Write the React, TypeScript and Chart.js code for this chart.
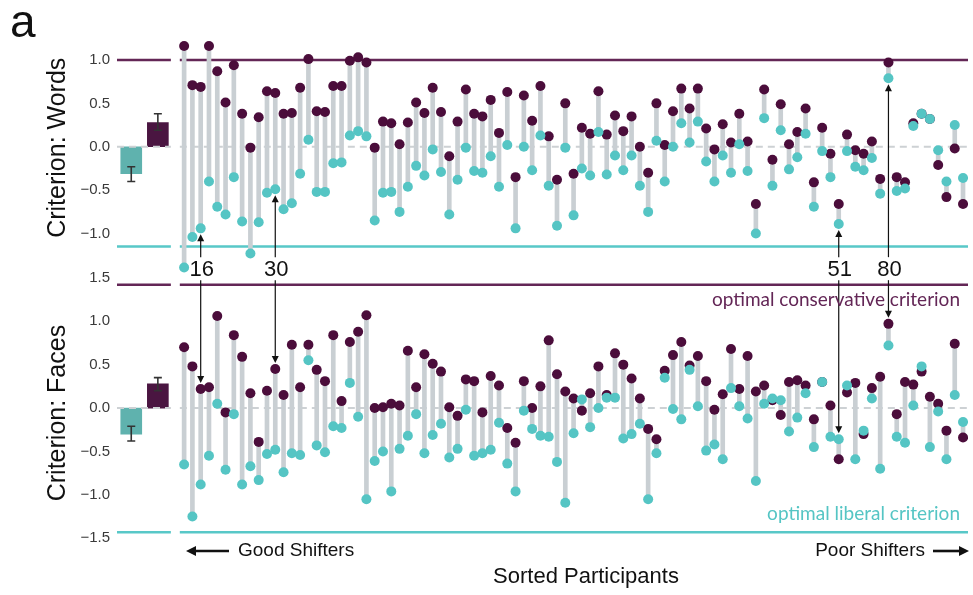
import React, { useEffect, useRef } from "react";
import { Chart, registerables } from "chart.js";

Chart.register(...registerables);

// Sorted participant ranks (x categories)
const participants: number[] = Array.from({ length: 95 }, (_, i) => i + 1);

// Criterion: Words — conservative-condition (purple) and liberal-condition (teal) criteria
const wordsCons = [
  1.16, 0.71, 0.69, 1.16, 0.87, 0.51, 0.94, 0.38, -0.01, 0.34, 0.64, 0.62, 0.38, 0.39, 0.68, 1.01, 0.41, 0.4, 0.7, 0.7, 0.99, 1.03, 0.97, -0.01,
  0.29, 0.27, 0.03, 0.28, 0.51, 0.39, 0.68, 0.4, -0.11, 0.29, 0.66, 0.38, 0.35, 0.54, 0.16, 0.63, -0.35, 0.59, 0.3, 0.7, 0.12, -0.38, 0.5, -0.31,
  0.22, 0.15, 0.64, 0.14, 0.36, 0.18, 0.35, 0.0, -0.3, 0.5, 0.02, 0.41, 0.67, 0.44, 0.67, 0.21, -0.03, 0.26, 0.05, 0.38, 0.06, -0.66, 0.66, -0.15,
  0.49, 0.03, 0.17, 0.44, -0.41, 0.22, -0.08, -0.66, 0.14, -0.04, -0.08, 0.06, -0.37, 0.97, -0.35, -0.41, 0.27, 0.38, 0.32, -0.21, -0.58, -0.02, -0.66,
];
const wordsLib = [
  -1.39, -1.04, -0.94, -0.4, -0.69, -0.78, -0.35, -0.86, -1.23, -0.87, -0.53, -0.49, -0.72, -0.65, -0.31, 0.08, -0.52, -0.52, -0.19, -0.18, 0.13, 0.18, 0.12, -0.85,
  -0.53, -0.52, -0.75, -0.46, -0.22, -0.33, -0.03, -0.29, -0.78, -0.38, -0.01, -0.28, -0.3, -0.11, -0.46, 0.02, -0.94, 0.0, -0.27, 0.13, -0.45, -0.91, -0.01, -0.79,
  -0.25, -0.33, 0.17, -0.32, -0.1, -0.27, -0.1, -0.45, -0.75, 0.07, -0.4, 0.0, 0.27, 0.05, 0.29, -0.17, -0.4, -0.1, -0.3, 0.03, -0.28, -1.0, 0.33, -0.45,
  0.19, -0.26, -0.12, 0.15, -0.69, -0.05, -0.35, -0.89, -0.05, -0.23, -0.27, -0.13, -0.54, 0.79, -0.51, -0.48, 0.24, 0.38, 0.32, -0.04, -0.4, 0.25, -0.36,
];

// Criterion: Faces
const facesCons = [
  0.7, 0.48, 0.22, 0.24, 1.06, -0.05, 0.84, 0.59, 0.17, -0.39, 0.2, 0.45, 0.15, 0.73, 0.24, 0.73, 0.44, 0.31, 0.84, 0.08, 0.76, 0.88, 1.07, 0.0,
  0.01, 0.05, 0.03, 0.66, 0.24, 0.62, 0.51, 0.42, 0.01, -0.09, 0.33, 0.31, -0.05, 0.37, 0.26, -0.23, -0.4, 0.31, 0.0, 0.25, 0.78, 0.39, 0.19, 0.11,
  -0.03, 0.17, 0.48, 0.15, 0.63, 0.5, 0.34, 0.11, -0.24, -0.36, 0.43, 0.61, 0.76, 0.49, 0.6, 0.31, -0.02, 0.16, 0.68, 0.22, 0.6, 0.19, 0.26, 0.09,
  -0.08, 0.3, 0.32, 0.26, -0.13, 0.3, 0.03, -0.59, 0.18, 0.29, -0.3, 0.23, 0.36, 0.97, -0.07, 0.3, 0.27, 0.42, 0.13, 0.05, -0.26, 0.74, -0.34,
];
const facesLib = [
  -0.65, -1.25, -0.88, -0.55, 0.05, -0.71, -0.07, -0.88, -0.67, -0.83, -0.53, -0.48, -0.74, -0.52, -0.54, 0.55, -0.43, -0.51, -0.21, -0.23, 0.29, -0.1, -1.05, -0.61,
  -0.5, -0.96, -0.47, -0.32, -0.07, -0.52, -0.31, -0.18, -0.57, -0.47, -0.02, -0.55, -0.52, -0.48, -0.17, -0.64, -0.96, -0.03, -0.24, -0.32, -0.33, -0.62, -1.09, -0.29,
  0.1, -0.22, 0.0, 0.12, 0.12, -0.35, -0.3, -0.18, -1.05, -0.52, 0.35, -0.01, -0.13, 0.44, 0.02, -0.49, -0.42, -0.59, 0.23, 0.02, -0.12, -0.84, 0.05, 0.11,
  0.09, -0.27, -0.11, 0.17, -0.45, 0.3, -0.33, -0.36, 0.26, -0.59, -0.26, 0.11, -0.7, 0.72, -0.33, -0.4, 0.03, 0.48, -0.45, -0.04, -0.59, 0.15, -0.16,
];

// Group means (liberal, conservative) with error bar limits
const barGroups = ["liberal", "conservative"];
const wordsMeans = [-0.31, 0.28];
const wordsErrLow = [-0.4, 0.19];
const wordsErrHigh = [-0.23, 0.38];
const facesMeans = [-0.3, 0.28];
const facesErrLow = [-0.38, 0.2];
const facesErrHigh = [-0.21, 0.35];

// Optimal criteria [conservative, liberal]
const wordsOptimal = [1.0, -1.15];
const facesOptimal = [1.42, -1.43];

// Tick labels
const wordsTicks = [-1, -0.5, 0, 0.5, 1];
const facesTicks = [-1.5, -1, -0.5, 0, 0.5, 1, 1.5];

// Highlighted participants (rank position, participant id)
const highlightRanks = [3, 12, 80, 86];
const highlightIds = ["16", "30", "51", "80"];

// ---- layout / style constants ----
const X_MIN = -7.1;
const X_MAX = 95.6;
const BAR_X = [-5.38, -2.17];
const BAR_AREA_END = -0.6;
const DOT_AREA_START = 0.48;

const PURPLE_DOT = "#4b0d3b";
const TEAL_DOT = "#55c5c4";
const PURPLE_LINE = "#632656";
const TEAL_LINE = "#58c8c8";
const PURPLE_BAR = "#4a1541";
const TEAL_BAR = "#5fb2ae";
const STICK = "#c9cfd3";
const ZERO = "#cdd1d4";
const SANS = '"Liberation Sans", Arial, Helvetica, sans-serif';

const segLine = (y: number) => [
  { x: X_MIN, y },
  { x: BAR_AREA_END, y },
  { x: (BAR_AREA_END + DOT_AREA_START) / 2, y: null },
  { x: DOT_AREA_START, y },
  { x: X_MAX, y },
];

function panelDatasets(axis: string, cons: number[], lib: number[], means: number[], optimal: number[]) {
  return [
    { type: "line", yAxisID: axis, data: segLine(optimal[0]), borderColor: PURPLE_LINE, borderWidth: 2.5, pointRadius: 0, spanGaps: false, order: 20 },
    { type: "line", yAxisID: axis, data: segLine(optimal[1]), borderColor: TEAL_LINE, borderWidth: 2.5, pointRadius: 0, spanGaps: false, order: 20 },
    {
      type: "bar", yAxisID: axis, label: barGroups.join("/"),
      data: means.map((m, i) => ({ x: BAR_X[i], y: m })),
      backgroundColor: [TEAL_BAR, PURPLE_BAR], barThickness: 21, grouped: false, order: 16,
    },
    { type: "line", yAxisID: axis, data: segLine(0), borderColor: ZERO, borderWidth: 2, borderDash: [7, 5], pointRadius: 0, spanGaps: false, order: 15 },
    {
      type: "bar", yAxisID: axis,
      data: participants.map((p, i) => ({ x: p, y: [Math.min(cons[i], lib[i]), Math.max(cons[i], lib[i])] })),
      backgroundColor: STICK, barThickness: 4, grouped: false, order: 14,
    },
    {
      type: "scatter", yAxisID: axis,
      data: participants.map((p, i) => ({ x: p, y: cons[i] })),
      backgroundColor: PURPLE_DOT, pointRadius: 5, borderWidth: 0, order: 3,
    },
    {
      type: "scatter", yAxisID: axis,
      data: participants.map((p, i) => ({ x: p, y: lib[i] })),
      backgroundColor: TEAL_DOT, pointRadius: 5, borderWidth: 0, order: 2,
    },
  ];
}

const fmt = (v: any) => {
  const n = Number(v);
  const s = Math.abs(n).toFixed(1);
  return n < 0 ? "\u2212" + s : s;
};

function yAxis(ticks: number[], min: number, max: number, weight: number) {
  return {
    type: "linear",
    position: "left",
    stack: "panels",
    stackWeight: weight,
    min,
    max,
    grid: { display: false, drawTicks: false },
    border: { display: false },
    afterBuildTicks: (s: any) => {
      s.ticks = ticks.map((v) => ({ value: v }));
    },
    afterFit: (s: any) => {
      s.width = 117;
    },
    ticks: {
      padding: 7,
      color: "#3a3a3a",
      autoSkip: false,
      font: { family: SANS, size: 15 },
      callback: fmt,
    },
  };
}

function arrow(ctx: CanvasRenderingContext2D, x: number, y1: number, y2: number, lw: number, head: number, hw: number) {
  const dir = y2 > y1 ? 1 : -1;
  ctx.beginPath();
  ctx.lineWidth = lw;
  ctx.moveTo(x, y1);
  ctx.lineTo(x, y2 - dir * head * 0.8);
  ctx.stroke();
  ctx.beginPath();
  ctx.moveTo(x, y2);
  ctx.lineTo(x - hw, y2 - dir * head);
  ctx.lineTo(x + hw, y2 - dir * head);
  ctx.closePath();
  ctx.fill();
}

function hArrow(ctx: CanvasRenderingContext2D, x1: number, x2: number, y: number) {
  const dir = x2 > x1 ? 1 : -1;
  const head = 10;
  ctx.beginPath();
  ctx.lineWidth = 2.6;
  ctx.moveTo(x1, y);
  ctx.lineTo(x2 - dir * head * 0.8, y);
  ctx.stroke();
  ctx.beginPath();
  ctx.moveTo(x2, y);
  ctx.lineTo(x2 - dir * head, y - 5);
  ctx.lineTo(x2 - dir * head, y + 5);
  ctx.closePath();
  ctx.fill();
}

const overlayPlugin = {
  id: "overlay",
  afterDatasetsDraw(chart: any) {
    const { ctx, scales } = chart;
    const xs = scales.x;
    const yW = scales.yW;
    const yF = scales.yF;
    ctx.save();
    // error bars
    const drawErr = (ys: any, lows: number[], highs: number[]) => {
      ctx.strokeStyle = "#333";
      ctx.lineWidth = 1.6;
      lows.forEach((lo, i) => {
        const px = xs.getPixelForValue(BAR_X[i]);
        const a = ys.getPixelForValue(lo);
        const b = ys.getPixelForValue(highs[i]);
        ctx.beginPath();
        ctx.moveTo(px, a);
        ctx.lineTo(px, b);
        ctx.moveTo(px - 4, a);
        ctx.lineTo(px + 4, a);
        ctx.moveTo(px - 4, b);
        ctx.lineTo(px + 4, b);
        ctx.stroke();
      });
    };
    drawErr(yW, wordsErrLow, wordsErrHigh);
    drawErr(yF, facesErrLow, facesErrHigh);

    // highlighted participants
    const labelY = yW.getPixelForValue(-1.41);
    ctx.fillStyle = "#111";
    ctx.strokeStyle = "#111";
    ctx.font = `22px ${SANS}`;
    ctx.textAlign = "center";
    ctx.textBaseline = "middle";
    highlightRanks.forEach((r, k) => {
      const i = r - 1;
      const px = xs.getPixelForValue(r);
      const topTarget = yW.getPixelForValue(Math.min(wordsCons[i], wordsLib[i])) + 6;
      const botTarget = yF.getPixelForValue(Math.max(facesCons[i], facesLib[i])) - 6;
      arrow(ctx, px, labelY - 12, topTarget, 1.2, 7, 3.5);
      arrow(ctx, px, labelY + 11, botTarget, 1.2, 7, 3.5);
      ctx.fillText(highlightIds[k], px + 1, labelY + 1);
    });
    ctx.restore();
  },
  afterDraw(chart: any) {
    const { ctx, scales } = chart;
    const yW = scales.yW;
    const yF = scales.yF;
    ctx.save();
    ctx.fillStyle = "#111";
    // panel letter
    ctx.font = `46px ${SANS}`;
    ctx.textAlign = "left";
    ctx.textBaseline = "alphabetic";
    ctx.fillText("a", 10, 37);
    // axis titles
    ctx.font = `25px ${SANS}`;
    ctx.textAlign = "center";
    ctx.textBaseline = "middle";
    const vtitle = (t: string, y: number) => {
      ctx.save();
      ctx.translate(58, y);
      ctx.rotate(-Math.PI / 2);
      ctx.fillText(t, 0, 0);
      ctx.restore();
    };
    vtitle("Criterion: Words", yW.getPixelForValue(0) + 1);
    vtitle("Criterion: Faces", yF.getPixelForValue(0) + 5);
    // criterion labels
    ctx.font = `19px Lato, "Open Sans", sans-serif`;
    ctx.textAlign = "right";
    ctx.fillStyle = PURPLE_LINE;
    ctx.fillText("optimal conservative criterion", 960, yF.getPixelForValue(1.25));
    ctx.fillStyle = TEAL_DOT;
    ctx.fillText("optimal liberal criterion", 960, yF.getPixelForValue(-1.22));
    // x labels
    ctx.fillStyle = "#111";
    ctx.strokeStyle = "#111";
    ctx.font = `22px ${SANS}`;
    ctx.textAlign = "center";
    ctx.fillText("Sorted Participants", 586, 577);
    ctx.font = `19px ${SANS}`;
    ctx.textAlign = "left";
    ctx.fillText("Good Shifters", 238, 551);
    ctx.textAlign = "right";
    ctx.fillText("Poor Shifters", 925, 551);
    hArrow(ctx, 229, 186, 551);
    hArrow(ctx, 933, 969, 551);
    ctx.restore();
  },
};

export default function App() {
  const ref = useRef<HTMLCanvasElement | null>(null);
  useEffect(() => {
    if (!ref.current) return;
    const chart = new Chart(ref.current, {
      type: "bar",
      data: {
        datasets: [
          ...panelDatasets("yW", wordsCons, wordsLib, wordsMeans, wordsOptimal),
          ...panelDatasets("yF", facesCons, facesLib, facesMeans, facesOptimal),
        ] as any,
      },
      options: {
        animation: false,
        responsive: false,
        events: [],
        layout: { padding: { top: 40, bottom: 55, left: 0, right: 3 } },
        plugins: { legend: { display: false }, tooltip: { enabled: false } },
        scales: {
          x: { type: "linear", min: X_MIN, max: X_MAX, display: false, offset: false },
          yF: yAxis(facesTicks, -1.52, 1.5, 3.02),
          yW: yAxis(wordsTicks, -1.51, 1.23, 2.74),
        } as any,
      },
      plugins: [overlayPlugin],
    } as any);
    return () => chart.destroy();
  }, []);
  return (
    <div style={{ position: "absolute", left: 0, top: 0, width: 973, height: 595, background: "#fff" }}>
      <canvas ref={ref} width={973} height={595} style={{ width: 973, height: 595, display: "block" }} />
    </div>
  );
}
